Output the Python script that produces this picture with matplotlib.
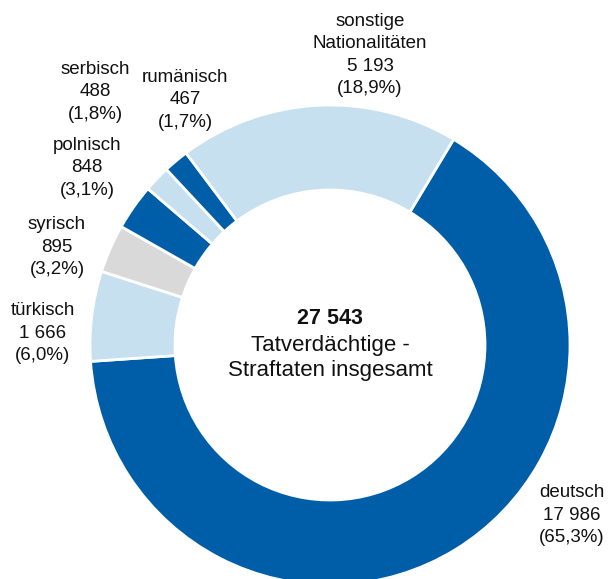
import matplotlib.pyplot as plt

plt.rcParams['font.family'] = ['Liberation Sans', 'DejaVu Sans']

nationalities = ["deutsch", "türkisch", "syrisch", "polnisch", "serbisch", "rumänisch", "sonstige\nNationalitäten"]
suspects = [17986, 1666, 895, 848, 488, 467, 5193]
shares = ["65,3%", "6,0%", "3,2%", "3,1%", "1,8%", "1,7%", "18,9%"]
total = 27543

dark = "#005ea8"
light = "#c7e0ef"
grey = "#d9d9d9"
colors = [dark, light, grey, dark, light, dark, light]

# label anchor points (pixel layout, y measured from top)
label_pos = [(572, 515), (43, 333), (57, 247), (87, 168), (95, 92), (185, 100), (370, 55)]

fig = plt.figure(figsize=(6.08, 5.79), dpi=100)
ax = fig.add_axes([0, 0, 1, 1])
ax.set_aspect('equal')
ax.axis('off')

ax.pie(suspects, colors=colors, startangle=59, counterclock=False,
       center=(330, -345), radius=240,
       wedgeprops=dict(width=85, edgecolor='white', linewidth=2))

ax.set_xlim(0, 608)
ax.set_ylim(-579, 0)


def fmt(n):
    return f"{n:,}".replace(",", " ")


for name, n, s, (x, y) in zip(nationalities, suspects, shares, label_pos):
    ax.text(x, -y, f"{name}\n{fmt(n)}\n({s})", ha='center', va='center',
            fontsize=13.5, linespacing=1.4, color='#111111')

ax.text(330, -318, fmt(total), ha='center', va='center', fontsize=15.5,
        fontweight='bold', color='#111111')
ax.text(330, -358, "Tatverdächtige -\nStraftaten insgesamt", ha='center',
        va='center', fontsize=16, linespacing=1.2, color='#111111')

fig.savefig("out.png", dpi=100)
